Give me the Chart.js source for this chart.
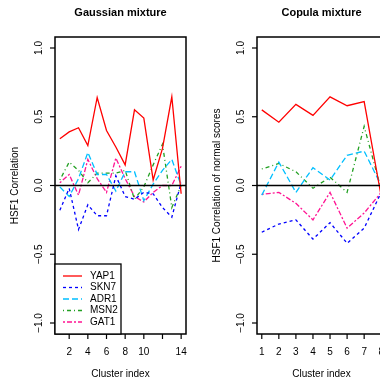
<!DOCTYPE html>
<html>
<head>
<meta charset="utf-8">
<script src="https://cdn.jsdelivr.net/npm/chart.js@4"></script>
<style>
  html, body { margin: 0; padding: 0; background: #fff; overflow: hidden; }
  #wrap { position: relative; width: 380px; height: 381px; overflow: hidden; }
  canvas { position: absolute; top: 0; }
  #gauss { left: 0; }
  #copula { left: 190px; }
</style>
</head>
<body>
<div id="wrap">
  <canvas id="gauss" width="190" height="381"></canvas>
  <canvas id="copula" width="200" height="381"></canvas>
</div>
<script>
// données
const seriesNames = ['YAP1', 'SKN7', 'ADR1', 'MSN2', 'GAT1'];

const clustersGauss = [1, 2, 3, 4, 5, 6, 7, 8, 9, 10, 11, 12, 13, 14];
const yap1Gauss = [0.34, 0.39, 0.42, 0.29, 0.64, 0.40, 0.28, 0.15, 0.55, 0.49, 0.04, 0.27, 0.645, -0.06];
const skn7Gauss = [-0.18, -0.02, -0.32, -0.14, -0.22, -0.22, 0.07, -0.08, -0.10, -0.05, -0.06, -0.16, -0.23, 0.02];
const adr1Gauss = [-0.01, -0.08, 0.05, 0.24, 0.08, 0.08, -0.04, 0.10, 0.10, -0.11, 0.01, 0.11, 0.19, 0.0];
const msn2Gauss = [0.04, 0.17, 0.11, 0.02, 0.09, 0.09, 0.09, 0.11, -0.10, -0.01, 0.15, 0.30, -0.16, 0.0];
const gat1Gauss = [0.02, 0.08, -0.07, 0.19, 0.05, -0.05, 0.20, 0.05, -0.08, -0.12, -0.05, 0.0, 0.0, 0.14];

const clustersCopula = [1, 2, 3, 4, 5, 6, 7, 8];
const yap1Copula = [0.55, 0.46, 0.59, 0.51, 0.645, 0.58, 0.61, -0.08];
const skn7Copula = [-0.34, -0.28, -0.25, -0.39, -0.27, -0.42, -0.31, -0.05];
const adr1Copula = [-0.07, 0.17, -0.05, 0.13, 0.04, 0.22, 0.25, 0.0];
const msn2Copula = [0.12, 0.16, 0.10, -0.02, 0.06, -0.05, 0.43, -0.03];
const gat1Copula = [-0.065, -0.05, -0.13, -0.25, -0.05, -0.31, -0.20, -0.05];

const yTicks = [-1, -0.5, 0, 0.5, 1];
const xTicksGauss = [2, 4, 6, 8, 10, 12, 14];
const xLabelsGauss = ['2', '4', '6', '8', '10', '', '14'];
const xTicksCopula = [1, 2, 3, 4, 5, 6, 7, 8];
const xLabelsCopula = ['1', '2', '3', '4', '5', '6', '7', '8'];

// estilos das linhas (cores e tracejados do R)
const lineColors = ['#ff0000', '#0000ff', '#00bfff', '#22a022', '#ff1493'];
const lineDashes = [[], [3, 3], [6, 3], [1, 3, 4, 3], [2, 2, 5, 2]];
const FONT = '"Liberation Sans", Arial, Helvetica, sans-serif';

function fmtTick(v) {
  return v.toFixed(1).replace('-', '\u2212');
}

// Plugin que desenha a moldura, os eixos e a legenda no estilo R
const rFrame = {
  id: 'rFrame',
  afterDatasetsDraw(chart, args, opts) {
    const ctx = chart.ctx;
    const a = chart.chartArea;
    const xs = chart.scales.x;
    const ys = chart.scales.y;
    ctx.save();
    ctx.strokeStyle = '#000';
    ctx.fillStyle = '#000';

    // linha horizontal em zero
    ctx.lineWidth = 1.3;
    const y0 = ys.getPixelForValue(0);
    ctx.beginPath();
    ctx.moveTo(a.left, y0);
    ctx.lineTo(a.right, y0);
    ctx.stroke();

    // caixa
    ctx.lineWidth = 1.5;
    ctx.strokeRect(a.left, a.top, a.right - a.left, a.bottom - a.top);

    // eixo y
    ctx.font = '10px ' + FONT;
    ctx.lineWidth = 1.2;
    yTicks.forEach(v => {
      const py = ys.getPixelForValue(v);
      ctx.beginPath();
      ctx.moveTo(a.left, py);
      ctx.lineTo(a.left - 5, py);
      ctx.stroke();
      ctx.save();
      ctx.translate(a.left - 16, py);
      ctx.rotate(-Math.PI / 2);
      ctx.textAlign = 'center';
      ctx.textBaseline = 'middle';
      ctx.fillText(fmtTick(v), 0, 0);
      ctx.restore();
    });

    // eixo x
    opts.xTicks.forEach((v, i) => {
      const px = xs.getPixelForValue(v);
      ctx.beginPath();
      ctx.moveTo(px, a.bottom);
      ctx.lineTo(px, a.bottom + 5);
      ctx.stroke();
      ctx.textAlign = 'center';
      ctx.textBaseline = 'middle';
      ctx.fillText(opts.xLabels[i], px, a.bottom + 18);
    });

    // títulos
    const cx = (a.left + a.right) / 2;
    ctx.textAlign = 'center';
    ctx.textBaseline = 'middle';
    ctx.fillText('Cluster index', cx, a.bottom + 40);

    ctx.save();
    ctx.translate(a.left - 40, (a.top + a.bottom) / 2);
    ctx.rotate(-Math.PI / 2);
    ctx.fillText(opts.yTitle, 0, 0);
    ctx.restore();

    ctx.font = 'bold 11px ' + FONT;
    ctx.fillText(opts.title, cx, a.top - 24);

    // legenda
    if (opts.legend) {
      const lx = a.left, ly = a.bottom - 70, lw = 66, lh = 70;
      ctx.fillStyle = '#fff';
      ctx.fillRect(lx, ly, lw, lh);
      ctx.lineWidth = 1.3;
      ctx.strokeStyle = '#000';
      ctx.strokeRect(lx, ly, lw, lh);
      ctx.font = '10px ' + FONT;
      ctx.textAlign = 'left';
      seriesNames.forEach((name, i) => {
        const yy = ly + 12 + i * 11.5;
        ctx.strokeStyle = lineColors[i];
        ctx.lineWidth = 1.3;
        ctx.setLineDash(lineDashes[i]);
        ctx.beginPath();
        ctx.moveTo(lx + 8, yy);
        ctx.lineTo(lx + 27, yy);
        ctx.stroke();
        ctx.setLineDash([]);
        ctx.fillStyle = '#000';
        ctx.fillText(name, lx + 35, yy);
      });
    }
    ctx.restore();
  }
};

function buildDatasets(xVals, series) {
  return series.map((vals, i) => ({
    label: seriesNames[i],
    data: xVals.map((x, k) => ({ x: x, y: vals[k] })),
    borderColor: lineColors[i],
    borderDash: lineDashes[i],
    borderWidth: 1.3,
    pointRadius: 0,
    tension: 0,
    fill: false
  }));
}

function makeChart(id, xVals, series, xMin, xMax, padLeft, frameOpts) {
  const ctx = document.getElementById(id).getContext('2d');
  return new Chart(ctx, {
    type: 'line',
    data: { datasets: buildDatasets(xVals, series) },
    options: {
      responsive: false,
      animation: false,
      devicePixelRatio: 1,
      layout: { padding: { left: padLeft, right: 4, top: 37, bottom: 47 } },
      scales: {
        x: { type: 'linear', min: xMin, max: xMax, display: false },
        y: { type: 'linear', min: -1.08, max: 1.08, display: false }
      },
      plugins: {
        legend: { display: false },
        tooltip: { enabled: false },
        rFrame: frameOpts
      }
    },
    plugins: [rFrame]
  });
}

makeChart('gauss', clustersGauss,
  [yap1Gauss, skn7Gauss, adr1Gauss, msn2Gauss, gat1Gauss],
  0.48, 14.52, 55,
  { title: 'Gaussian mixture', yTitle: 'HSF1 Correlation',
    xTicks: xTicksGauss, xLabels: xLabelsGauss, legend: true });

makeChart('copula', clustersCopula,
  [yap1Copula, skn7Copula, adr1Copula, msn2Copula, gat1Copula],
  0.72, 8.28, 67,
  { title: 'Copula mixture', yTitle: 'HSF1 Correlation of normal scores',
    xTicks: xTicksCopula, xLabels: xLabelsCopula, legend: false });
</script>
</body>
</html>
